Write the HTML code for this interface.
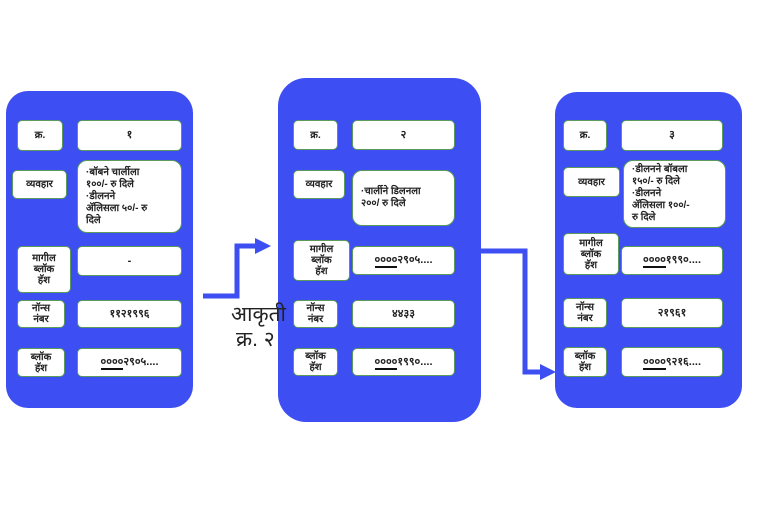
<!DOCTYPE html>
<html><head><meta charset="utf-8">
<style>
html,body{margin:0;padding:0;background:#fff;}
body{width:765px;height:509px;position:relative;overflow:hidden;font-family:"Liberation Sans","Noto Sans CJK SC","DejaVu Sans",sans-serif;}
.blk{position:absolute;background:#3d4ef2;border-radius:22px;}
.b{position:absolute;background:#fff;border:1px solid #5a9a5a;border-radius:5px;box-sizing:border-box;display:flex;align-items:center;justify-content:center;text-align:center;font-size:10px;font-weight:bold;color:#222;line-height:11px;}
.v{font-size:11px;}
.t{justify-content:flex-start;text-align:left;padding-left:8px;font-size:10px;line-height:12px;border-radius:10px;}
u{text-decoration:none;border-bottom:2px solid #111;}
.cap{position:absolute;font-size:21px;line-height:24px;color:#222;white-space:nowrap;z-index:5;}
</style></head><body>
<div class="cap" style="left:231px;top:303px">आकृती</div>
<div class="cap" style="left:236px;top:328px">क्र. २</div>
<svg width="765" height="509" style="position:absolute;left:0;top:0">
<polyline points="203,296 237,296 237,246 257,246" fill="none" stroke="#3d4ef2" stroke-width="5"/>
<polygon points="255,238 271,246 255,254" fill="#3d4ef2"/>
<polyline points="480,251 525,251 525,372 542,372" fill="none" stroke="#3d4ef2" stroke-width="5"/>
<polygon points="540,364 556,372 540,380" fill="#3d4ef2"/>
</svg>

<div class="blk" style="left:6px;top:91px;width:187px;height:317px"></div>
<div class="b" style="left:17px;top:120px;width:46px;height:31px">क्र.</div>
<div class="b v" style="left:77px;top:120px;width:105px;height:31px">१</div>
<div class="b" style="left:12px;top:170px;width:55px;height:29px">व्यवहार</div>
<div class="b t" style="left:77px;top:160px;width:105px;height:73px">·बॉबने चार्लीला<br>१००/- रु दिले<br>·डीलनने<br>ॲलिसला ५०/- रु<br>दिले</div>
<div class="b" style="left:17px;top:246px;width:54px;height:47px">मागील<br>ब्लॉक<br>हॅश</div>
<div class="b v" style="left:77px;top:246px;width:105px;height:30px">-</div>
<div class="b" style="left:17px;top:300px;width:48px;height:28px">नॉन्स<br>नंबर</div>
<div class="b v" style="left:77px;top:300px;width:105px;height:28px">११२१९९६</div>
<div class="b" style="left:17px;top:348px;width:48px;height:29px">ब्लॉक<br>हॅश</div>
<div class="b v" style="left:77px;top:348px;width:105px;height:29px"><span><u>००००</u>२९०५....</span></div>

<div class="blk" style="left:278px;top:78px;width:203px;height:344px;border-radius:28px"></div>
<div class="b" style="left:293px;top:120px;width:45px;height:30px">क्र.</div>
<div class="b v" style="left:352px;top:120px;width:103px;height:30px">२</div>
<div class="b" style="left:293px;top:170px;width:52px;height:29px">व्यवहार</div>
<div class="b t" style="left:352px;top:170px;width:103px;height:56px">·चार्लीने डिलनला<br>२००/ रु दिले</div>
<div class="b" style="left:293px;top:240px;width:57px;height:41px">मागील<br>ब्लॉक<br>हॅश</div>
<div class="b v" style="left:352px;top:246px;width:103px;height:29px"><span><u>००००</u>२९०५....</span></div>
<div class="b" style="left:293px;top:300px;width:45px;height:28px">नॉन्स<br>नंबर</div>
<div class="b v" style="left:352px;top:300px;width:103px;height:28px">४४३३</div>
<div class="b" style="left:293px;top:348px;width:45px;height:28px">ब्लॉक<br>हॅश</div>
<div class="b v" style="left:352px;top:348px;width:103px;height:28px"><span><u>००००</u>१९९०....</span></div>

<div class="blk" style="left:555px;top:92px;width:187px;height:316px"></div>
<div class="b" style="left:563px;top:120px;width:44px;height:31px">क्र.</div>
<div class="b v" style="left:621px;top:120px;width:102px;height:31px">३</div>
<div class="b" style="left:563px;top:167px;width:57px;height:30px">व्यवहार</div>
<div class="b t" style="left:623px;top:160px;width:103px;height:68px">·डीलनने बॉबला<br>१५०/- रु दिले<br>·डीलनने<br>ॲलिसला १००/-<br>रु दिले</div>
<div class="b" style="left:563px;top:233px;width:56px;height:42px">मागील<br>ब्लॉक<br>हॅश</div>
<div class="b v" style="left:621px;top:246px;width:102px;height:29px"><span><u>००००</u>१९९०....</span></div>
<div class="b" style="left:563px;top:298px;width:44px;height:30px">नॉन्स<br>नंबर</div>
<div class="b v" style="left:621px;top:298px;width:102px;height:30px">२१९६१</div>
<div class="b" style="left:563px;top:347px;width:44px;height:30px">ब्लॉक<br>हॅश</div>
<div class="b v" style="left:621px;top:347px;width:102px;height:30px"><span><u>००००</u>९२१६....</span></div>
</body></html>
